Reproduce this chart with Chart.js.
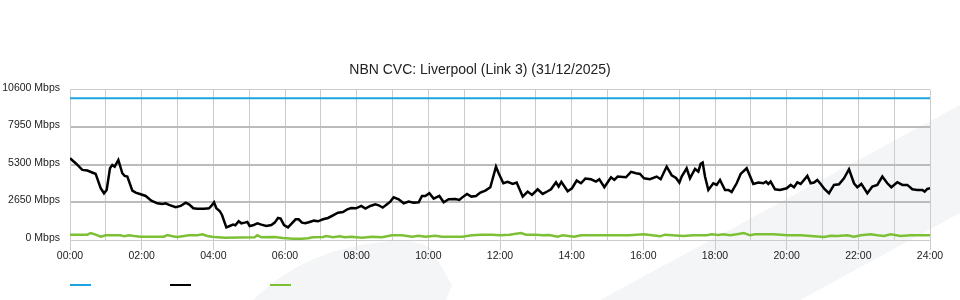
<!DOCTYPE html>
<html>
<head>
<meta charset="utf-8">
<script src="https://cdn.jsdelivr.net/npm/chart.js@4/dist/chart.umd.min.js"></script>
<style>
  html, body { margin: 0; padding: 0; background: #fff; }
  #wrap { position: relative; width: 960px; height: 300px; overflow: hidden; }
  #wrap svg, #wrap canvas { position: absolute; left: 0; top: 0; }
  #legend { position: absolute; left: 0; top: 284px; width: 960px; height: 4px; }
  #legend span { position: absolute; top: 0; width: 21px; height: 2px; }
</style>
</head>
<body>
<div id="wrap">
  <svg width="960" height="300">
    <path fill="#f4f5f7" d="M600,300 L960,105 L960,213 L800,300 Z"/>
    <path fill="#f4f5f7" d="M253,300 C285,270 320,248 390,241 C410,240 425,243 432,250 L452,285 L446,300 Z"/>
  </svg>
  <canvas id="cvc-chart" width="960" height="300"></canvas>
  <div id="legend"></div>
</div>
<script>
// ── Data (hours since midnight, Mbps) ─────────────────────────────────────────
const capacityTimes = [0, 24];
const capacityMbps  = [10000, 10000];

const inTimes = [
  0.000, 0.158, 0.344, 0.484, 0.670, 0.716, 0.856, 0.949, 1.023, 1.116, 1.181, 1.247, 1.349,
  1.460, 1.526, 1.600, 1.740, 1.833, 1.972, 2.112, 2.270, 2.437, 2.577, 2.670, 2.763, 2.949,
  3.088, 3.228, 3.321, 3.442, 3.554, 3.740, 3.879, 3.944, 4.019, 4.084, 4.177, 4.242, 4.363,
  4.456, 4.549, 4.614, 4.707, 4.781, 4.874, 4.949, 5.014, 5.107, 5.228, 5.340, 5.479, 5.619,
  5.712, 5.805, 5.879, 5.972, 6.084, 6.177, 6.298, 6.381, 6.474, 6.568, 6.688, 6.809, 6.921,
  7.061, 7.200, 7.340, 7.479, 7.619, 7.740, 7.851, 7.981, 8.130, 8.242, 8.381, 8.521, 8.614,
  8.726, 8.847, 8.940, 9.033, 9.172, 9.312, 9.451, 9.591, 9.730, 9.823, 9.916, 10.028, 10.149,
  10.307, 10.428, 10.567, 10.753, 10.865, 10.940, 11.079, 11.200, 11.330, 11.451, 11.591, 11.730,
  11.888, 11.963, 12.093, 12.214, 12.353, 12.465, 12.633, 12.772, 12.893, 13.051, 13.191, 13.330,
  13.423, 13.563, 13.637, 13.712, 13.888, 14.009, 14.140, 14.260, 14.381, 14.540, 14.679, 14.772,
  14.912, 15.098, 15.191, 15.284, 15.516, 15.656, 15.795, 15.907, 16.019, 16.186, 16.372, 16.484,
  16.651, 16.791, 16.912, 17.005, 17.070, 17.209, 17.302, 17.442, 17.535, 17.600, 17.656, 17.721,
  17.814, 17.953, 18.047, 18.140, 18.279, 18.372, 18.465, 18.605, 18.716, 18.884, 19.070, 19.209,
  19.349, 19.423, 19.488, 19.553, 19.674, 19.814, 20.000, 20.112, 20.205, 20.298, 20.391, 20.577,
  20.670, 20.763, 20.856, 20.949, 21.060, 21.181, 21.321, 21.460, 21.600, 21.740, 21.879, 21.972,
  22.084, 22.251, 22.391, 22.530, 22.670, 22.809, 22.921, 23.088, 23.228, 23.367, 23.507, 23.647,
  23.786, 23.851, 23.926, 24.000
];
const inMbps = [
  5771, 5418, 4947, 4900, 4711, 4664, 3651, 3298, 3533, 5064, 5300, 5182, 5653,
  4711, 4523, 4476, 3486, 3345, 3227, 3109, 2780, 2591, 2544, 2591, 2473, 2308,
  2403, 2638, 2520, 2238, 2214, 2214, 2238, 2403, 2662, 2238, 2049, 1767, 895,
  989, 1083, 1036, 1319, 1178, 1225, 1272, 989, 1036, 1178, 1083, 989, 1060,
  1225, 1555, 1507, 1060, 895, 1131, 1460, 1460, 1225, 1178, 1272, 1366, 1319,
  1460, 1555, 1743, 1931, 1979, 2167, 2261, 2238, 2403, 2214, 2403, 2520, 2450,
  2285, 2520, 2709, 3015, 2874, 2591, 2709, 2638, 2662, 3109, 3109, 3298, 2921,
  3109, 2662, 2874, 2897, 2827, 2991, 3251, 3062, 3109, 3345, 3486, 3722,
  5182, 4711, 4004, 4099, 3957, 4052, 3062, 3416, 3180, 3580, 3251, 3439,
  3580, 4075, 3769, 4099, 3439, 3651, 4193, 4004, 4334, 4287, 4122, 4287,
  3722, 4428, 4240, 4476, 4428, 4805, 4711, 4664, 4358, 4287, 4476, 4287,
  5182, 4570, 4381, 4052, 4476, 5064, 4358, 5017, 4829, 5371, 5465, 4476,
  3533, 4004, 3887, 4240, 3533, 3533, 3392, 4004, 4664, 5064, 3957, 4052,
  4004, 4122, 3957, 4122, 3580, 3533, 3651, 3887, 3722, 4075, 3957, 4523,
  4004, 4052, 4240, 3957, 3580, 3298, 3887, 3934, 4358, 4994, 4004, 3722,
  3957, 3298, 3769, 3887, 4476, 4004, 3722, 4075, 3887, 3887, 3580, 3533,
  3533, 3416, 3604, 3651
];

const outTimes = [
  0.000, 0.484, 0.577, 0.716, 0.856, 0.995, 1.414, 1.507, 1.647, 1.786, 1.972, 2.623, 2.716,
  2.856, 2.995, 3.181, 3.321, 3.554, 3.693, 3.833, 3.963, 4.037, 4.316, 5.154, 5.228, 5.340,
  5.712, 5.944, 6.223, 6.456, 6.642, 6.781, 7.061, 7.154, 7.340, 7.526, 7.665, 7.851, 8.149,
  8.428, 8.707, 8.986, 9.265, 9.544, 9.730, 9.916, 10.195, 10.381, 10.660, 10.940, 11.219,
  11.498, 11.777, 12.000, 12.261, 12.586, 12.726, 13.005, 13.191, 13.377, 13.609, 13.749,
  14.074, 14.260, 14.679, 15.144, 15.609, 16.019, 16.186, 16.465, 16.605, 17.116, 17.395,
  17.768, 17.907, 18.093, 18.233, 18.419, 18.605, 18.809, 18.977, 19.116, 19.628, 20.037,
  20.391, 20.670, 21.042, 21.228, 21.414, 21.693, 21.879, 22.065, 22.344, 22.530, 22.716,
  22.902, 23.181, 23.460, 24.000
];
const outMbps = [
  377, 377, 495, 377, 235, 330, 330, 259, 330, 283, 235, 235, 353,
  259, 212, 283, 330, 330, 400, 283, 235, 212, 165, 188, 330, 188,
  212, 141, 94, 94, 118, 188, 212, 283, 188, 259, 188, 235, 165,
  235, 188, 330, 330, 235, 306, 235, 306, 235, 235, 235, 330,
  377, 377, 330, 377, 495, 377, 377, 330, 353, 235, 330,
  235, 330, 330, 330, 330, 400, 353, 259, 377, 283, 330,
  330, 400, 353, 400, 330, 400, 495, 330, 400, 400, 330,
  330, 283, 212, 306, 283, 330, 235, 330, 400, 330, 283,
  400, 283, 330, 330
];

const yTicks = [0, 2650, 5300, 7950, 10600];
const hourLabels = ["00:00", "02:00", "04:00", "06:00", "08:00", "10:00", "12:00",
                    "14:00", "16:00", "18:00", "20:00", "22:00", "24:00"];

const SERIES_COLORS = ["#1ea3df", "#000000", "#7cc035"];
const SERIES_WIDTHS = [2, 2.5, 2.5];
const FONT = "'Liberation Sans', Arial, sans-serif";

function toPoints(times, values) {
  return times.map((t, i) => ({ x: t, y: values[i] }));
}

function lineDataset(label, times, values, i) {
  return {
    label,
    data: toPoints(times, values),
    borderColor: SERIES_COLORS[i],
    backgroundColor: SERIES_COLORS[i],
    borderWidth: SERIES_WIDTHS[i],
    pointRadius: 0,
    tension: 0,
    fill: false,
  };
}

const isEdge = c => c.tick && (c.tick.value === 0 || c.tick.value === 10600);

// ── Chart ─────────────────────────────────────────────────────────────────────
const cvcChart = new Chart(document.getElementById("cvc-chart"), {
  type: "line",
  data: {
    datasets: [
      lineDataset("Capacity", capacityTimes, capacityMbps, 0),
      lineDataset("Traffic In", inTimes, inMbps, 1),
      lineDataset("Traffic Out", outTimes, outMbps, 2),
    ],
  },
  options: {
    responsive: false,
    animation: false,
    layout: { padding: 0 },
    plugins: {
      legend: { display: false },
      tooltip: { enabled: false },
      title: {
        display: true,
        text: "NBN CVC: Liverpool (Link 3) (31/12/2025)",
        color: "#222",
        font: { family: FONT, size: 14, weight: "normal" },
        padding: { top: 62, bottom: 11 },
      },
    },
    scales: {
      x: {
        type: "linear",
        min: 0,
        max: 24,
        afterFit: s => { s.height = 60; },
        afterBuildTicks: s => { s.ticks = Array.from({ length: 25 }, (_, h) => ({ value: h })); },
        ticks: {
          autoSkip: false,
          maxRotation: 0,
          padding: 0,
          color: "#222",
          font: { family: FONT, size: 10.5 },
          callback: v => (v % 2 === 0 ? hourLabels[v / 2] : ""),
        },
        grid: {
          color: "#cccccc",
          lineWidth: 1,
          tickLength: 10,
          tickColor: c => (c.tick && c.tick.value % 2 === 0 ? "#cccccc" : "rgba(0,0,0,0)"),
        },
        border: { color: "#cccccc" },
      },
      y: {
        min: 0,
        max: 10600,
        afterFit: s => { s.width = 70; },
        afterBuildTicks: s => { s.ticks = yTicks.map(v => ({ value: v })); },
        ticks: {
          padding: 10,
          labelOffset: -2,
          color: "#222",
          font: { family: FONT, size: 10.5 },
          callback: v => v + " Mbps",
        },
        grid: {
          drawTicks: false,
          color: c => (isEdge(c) ? "#cccccc" : "#bcbcbc"),
          lineWidth: c => (isEdge(c) ? 1 : 2),
        },
        border: { color: "#cccccc" },
      },
      // empty right-hand axis: only reserves the right margin so the title stays centred on the page
      yRight: {
        position: "right",
        min: 0,
        max: 10600,
        afterFit: s => { s.width = 30; },
        ticks: { display: false },
        grid: { display: false },
        border: { display: false },
      },
    },
  },
});

// ── Legend (short colour strokes, no text) ───────────────────────────────────
const legendEl = document.getElementById("legend");
cvcChart.data.datasets.forEach((ds, i) => {
  const sw = document.createElement("span");
  sw.style.left = (cvcChart.chartArea.left + i * 100) + "px";
  sw.style.background = ds.borderColor;
  legendEl.appendChild(sw);
});
</script>
</body>
</html>
